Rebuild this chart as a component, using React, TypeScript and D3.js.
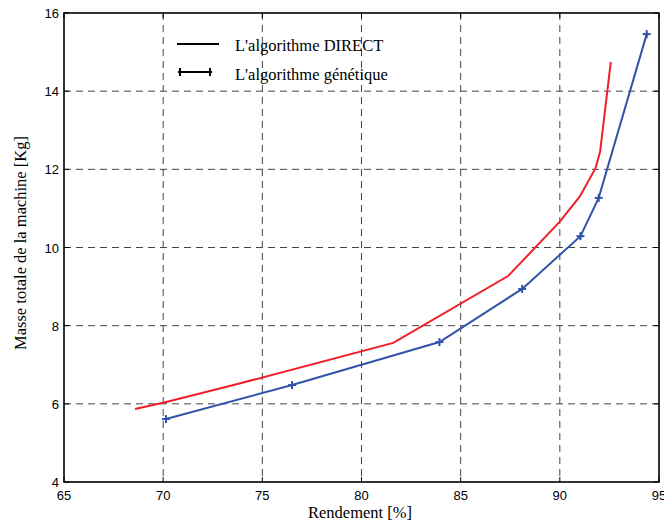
import React from "react";
import * as d3 from "d3";

const directX = [68.58, 70.0, 73.7, 81.6, 87.39, 90.0, 91.0, 91.8, 92.03, 92.57];
const directY = [5.87, 6.03, 6.5, 7.56, 9.27, 10.66, 11.3, 12.03, 12.45, 14.75];
const genX = [70.14, 76.5, 83.93, 88.1, 91.04, 91.96, 94.38];
const genY = [5.61, 6.48, 7.58, 8.94, 10.29, 11.27, 15.46];
const xTicks = [65, 70, 75, 80, 85, 90, 95];
const yTicks = [4, 6, 8, 10, 12, 14, 16];
const legendLabels = ["L'algorithme DIRECT", "L'algorithme génétique"];

export default function App() {
  const W = 664, H = 525;
  const L = 64, R = 659, T = 13, B = 482;
  const x = d3.scaleLinear().domain([65, 95]).range([L, R]);
  const y = d3.scaleLinear().domain([4, 16]).range([B, T]);
  const line = d3.line<[number, number]>().x(d => x(d[0])).y(d => y(d[1]));
  const dPts: [number, number][] = directX.map((v, i) => [v, directY[i]]);
  const gPts: [number, number][] = genX.map((v, i) => [v, genY[i]]);
  const red = "#ee1f27";
  const blue = "#3153a9";
  const grid = "#444";
  const serif = "Liberation Serif, Times New Roman, serif";
  return (
    <svg width={W} height={H} style={{ position: "absolute", left: 0, top: 0, background: "#fff" }}>
      <rect x={0} y={0} width={W} height={H} fill="#fff" />
      {xTicks.slice(1, -1).map(t => (
        <line key={"gx" + t} x1={x(t)} x2={x(t)} y1={T} y2={B} stroke={grid} strokeWidth={1} strokeDasharray="7,5" />
      ))}
      {yTicks.slice(1, -1).map(t => (
        <line key={"gy" + t} x1={L} x2={R} y1={y(t)} y2={y(t)} stroke={grid} strokeWidth={1} strokeDasharray="7,5" />
      ))}
      {xTicks.map(t => (
        <g key={"tx" + t}>
          <line x1={x(t)} x2={x(t)} y1={B} y2={B - 5} stroke="#000" />
          <line x1={x(t)} x2={x(t)} y1={T} y2={T + 5} stroke="#000" />
          <text x={x(t)} y={B + 18} textAnchor="middle" fontFamily="Liberation Sans, Arial, sans-serif" fontSize={13} fill="#000">{t}</text>
        </g>
      ))}
      {yTicks.map(t => (
        <g key={"ty" + t}>
          <line x1={L} x2={L + 5} y1={y(t)} y2={y(t)} stroke="#000" />
          <line x1={R} x2={R - 5} y1={y(t)} y2={y(t)} stroke="#000" />
          <text x={L - 5} y={y(t) + 5} textAnchor="end" fontFamily="Liberation Sans, Arial, sans-serif" fontSize={13} fill="#000">{t}</text>
        </g>
      ))}
      <rect x={L} y={T} width={R - L} height={B - T} fill="none" stroke="#000" strokeWidth={1.6} />
      <path d={line(dPts) || ""} fill="none" stroke={red} strokeWidth={2} />
      <path d={line(gPts) || ""} fill="none" stroke={blue} strokeWidth={2} />
      {gPts.map((p, i) => (
        <g key={"m" + i} stroke={blue} strokeWidth={2}>
          <line x1={x(p[0]) - 4} x2={x(p[0]) + 4} y1={y(p[1])} y2={y(p[1])} />
          <line x1={x(p[0])} x2={x(p[0])} y1={y(p[1]) - 4} y2={y(p[1]) + 4} />
        </g>
      ))}
      <g fontFamily={serif} fontSize={16.5} fill="#000">
        <line x1={177} x2={219} y1={44} y2={44} stroke="#000" strokeWidth={2} />
        <text x={235} y={51}>{legendLabels[0]}</text>
        <line x1={178} x2={212} y1={72} y2={72} stroke="#000" strokeWidth={2} />
        <line x1={180} x2={180} y1={68} y2={76} stroke="#000" strokeWidth={2} />
        <line x1={210} x2={210} y1={68} y2={76} stroke="#000" strokeWidth={2} />
        <text x={235} y={80}>{legendLabels[1]}</text>
      </g>
      <text x={360} y={518} textAnchor="middle" fontFamily={serif} fontSize={16.5} fill="#000">Rendement [%]</text>
      <text transform={`translate(26,243) rotate(-90)`} textAnchor="middle" fontFamily={serif} fontSize={16.5} fill="#000">Masse totale de la machine [Kg]</text>
    </svg>
  );
}
